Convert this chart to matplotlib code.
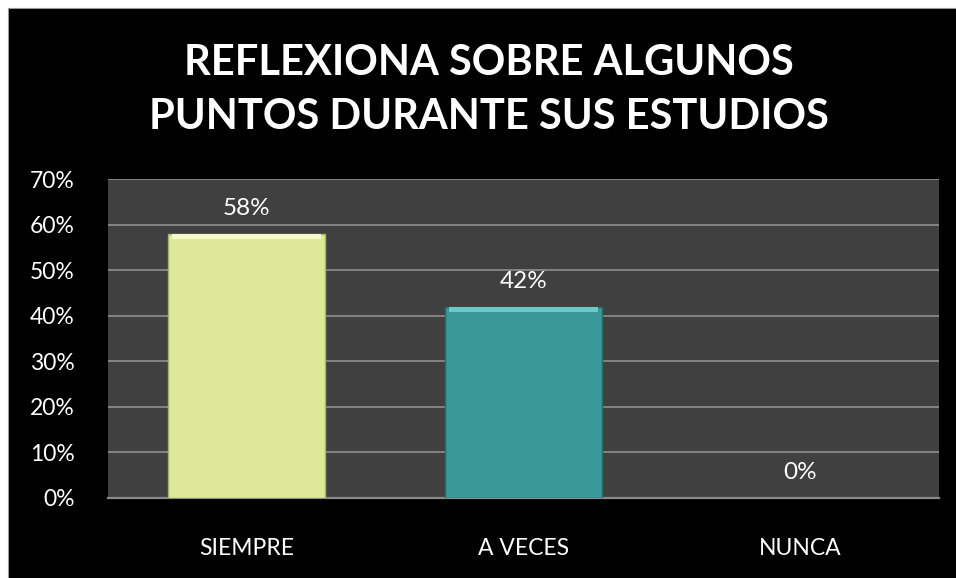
import matplotlib
matplotlib.use("Agg")
import matplotlib.pyplot as plt
from matplotlib.ticker import FuncFormatter

categories = ["SIEMPRE", "A VECES", "NUNCA"]
values = [0.58, 0.42, 0.0]
labels = ["58%", "42%", "0%"]
colors = ["#DDE89B", "#3A9898"]
edge_light = ["#F4F8CC", "#6CCACA"]
edge_dark = ["#A8B46A", "#256B6B"]

plt.rcParams['font.family'] = ['Lato', 'DejaVu Sans']

fig = plt.figure(figsize=(9.56, 5.78), dpi=100, facecolor="white")
bg = fig.add_axes([8/956, 0, 948/956, 570/578])
bg.set_facecolor("black")
bg.set_xticks([]); bg.set_yticks([])
for s in bg.spines.values():
    s.set_visible(False)
bg.spines['left'].set_visible(True); bg.spines['top'].set_visible(True)
bg.spines['left'].set_color("#999999"); bg.spines['top'].set_color("#999999")
bg.set_zorder(0)

L, R, T, B = 108, 939, 179, 498
ax = fig.add_axes([L/956, 1 - B/578, (R-L)/956, (B-T)/578])
ax.set_facecolor("#404040")
ax.set_zorder(1)

x = list(range(len(categories)))
bw = 0.57
ax.set_xlim(-0.5, len(categories) - 0.5)
ax.set_ylim(0, 0.70)
ax.set_yticks([i/10 for i in range(8)])
ax.yaxis.set_major_formatter(FuncFormatter(lambda v, p: f"{v*100:.0f}%"))
ax.grid(axis="y", color="#8A8A8A", linewidth=1.3)
ax.set_axisbelow(True)
for s in ["left", "right", "top"]:
    ax.spines[s].set_visible(False)
ax.spines["bottom"].set_color("#8A8A8A")
ax.spines["bottom"].set_linewidth(1.6)
ax.tick_params(axis="both", length=0, colors="white", labelsize=16.5)
ax.tick_params(axis="x", pad=29)
ax.tick_params(axis="y", pad=24)
ax.set_xticks(x)
ax.set_xticklabels(categories)

for i, v in enumerate(values):
    if v > 0:
        c = colors[i % len(colors)]
        ax.bar(x[i], v, width=bw, color=c, edgecolor=edge_dark[i % 2], linewidth=1.0, zorder=3)
        ax.bar(x[i], 0.012, bottom=v - 0.012, width=bw * 0.95, color=edge_light[i % 2],
               linewidth=0, zorder=4)
    ax.text(x[i], v + 0.055, labels[i], ha="center", va="center", color="white",
            fontsize=17.5, zorder=5)

fig.text(489/956, 1 - 63/578, "REFLEXIONA SOBRE ALGUNOS", ha="center", va="center",
         color="white", fontsize=30, fontweight="bold")
fig.text(489/956, 1 - 117/578, "PUNTOS DURANTE SUS ESTUDIOS", ha="center", va="center",
         color="white", fontsize=30, fontweight="bold")

fig.savefig("out.png", dpi=100, facecolor="white")
